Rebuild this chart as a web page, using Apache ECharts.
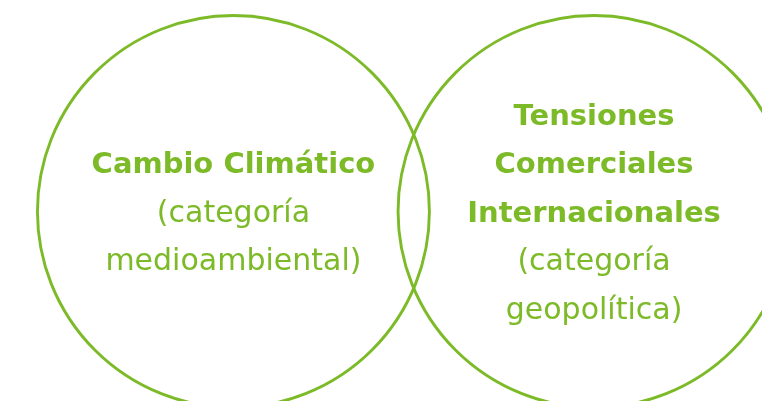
<!DOCTYPE html>
<html>
<head>
<meta charset="utf-8">
<script src="https://cdn.jsdelivr.net/npm/echarts@6/dist/echarts.min.js"></script>
<style>
html,body{margin:0;padding:0;background:#fff;}
#chart{width:762px;height:401px;}
</style>
</head>
<body>
<div id="chart"></div>
<script>
// Venn sets (abstract units: radius 1)
const setNames = ['Cambio Climático', 'Tensiones Comerciales Internacionales'];
const titleLines = [['Cambio Climático'], ['Tensiones', 'Comerciales', 'Internacionales']];
const categoryLines = [['(categoría', 'medioambiental)'], ['(categoría', 'geopolítica)']];
const centerX = [-0.92, 0.92];
const centerY = [0, 0];
const radius = [1, 1];

const GREEN = '#7cba28';

const data = setNames.map((n, i) => [centerX[i], centerY[i], radius[i], i]);

const chart = echarts.init(document.getElementById('chart'), null, {renderer: 'canvas'});
chart.setOption({
  animation: false,
  grid: {left: 0, right: 0, top: 0, bottom: 0},
  xAxis: {type: 'value', min: -2.111, max: 1.777, show: false},
  yAxis: {type: 'value', min: -0.967, max: 1.079, show: false},
  series: [{
    type: 'custom',
    coordinateSystem: 'cartesian2d',
    data: data,
    renderItem: function (params, api) {
      const c = api.coord([api.value(0), api.value(1)]);
      const r = api.size([api.value(2), 0])[0];
      const idx = api.value(3);
      const txt = titleLines[idx].map(s => '{b|' + s + '}')
        .concat(categoryLines[idx].map(s => '{n|' + s + '}')).join('\n');
      return {
        type: 'group',
        children: [{
          type: 'circle',
          shape: {cx: c[0], cy: c[1], r: r},
          style: {fill: 'none', stroke: GREEN, lineWidth: 2.9}
        }, {
          type: 'text',
          x: c[0], y: c[1] + 2.5,
          style: {
            text: txt,
            align: 'center',
            verticalAlign: 'middle',
            rich: {
              b: {fontFamily: 'DejaVu Sans', fontWeight: 'bold', fontSize: 29, lineHeight: 48.5, fill: GREEN, align: 'center'},
              n: {fontFamily: 'DejaVu Sans', fontWeight: 'normal', fontSize: 30, lineHeight: 48.5, fill: GREEN, align: 'center'}
            }
          }
        }]
      };
    }
  }]
});
</script>
</body>
</html>
